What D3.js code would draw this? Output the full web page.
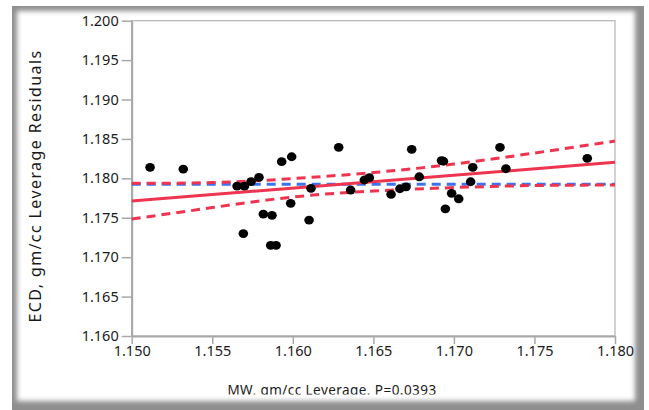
<!DOCTYPE html>
<html>
<head>
<meta charset="utf-8">
<script src="https://cdn.jsdelivr.net/npm/d3@7"></script>
<style>
  body { margin: 0; background: #fff; }
  svg { display: block; font-family: "Noto Sans", "Open Sans", sans-serif; }
</style>
</head>
<body>
<div id="chart"></div>
<script>
// leverage plot data
const xTicks = [1.150, 1.155, 1.160, 1.165, 1.170, 1.175, 1.180];
const yTicks = [1.160, 1.165, 1.170, 1.175, 1.180, 1.185, 1.190, 1.195, 1.200];

const mwLeverage = [1.15114, 1.15320, 1.15654, 1.15700, 1.15741, 1.15790, 1.15931, 1.15993,
  1.16113, 1.15987, 1.15817, 1.15871, 1.16101, 1.15693, 1.15863, 1.15896, 1.16285, 1.16738,
  1.16359, 1.16444, 1.16475, 1.16785, 1.16610, 1.16665, 1.16703, 1.16923, 1.16935, 1.17117,
  1.17286, 1.17323, 1.17104, 1.16986, 1.17030, 1.16947, 1.17828];
const ecdResiduals = [1.18140, 1.18118, 1.17902, 1.17902, 1.17959, 1.18013, 1.18211, 1.18274,
  1.17873, 1.17683, 1.17547, 1.17531, 1.17471, 1.17300, 1.17150, 1.17150, 1.18393, 1.18368,
  1.17852, 1.17979, 1.18008, 1.18020, 1.17797, 1.17868, 1.17893, 1.18226, 1.18217, 1.18140,
  1.18393, 1.18122, 1.17957, 1.17810, 1.17741, 1.17614, 1.18254];

const fitX = [1.150, 1.180];
const fitY = [1.17712, 1.18203];
const ciX = [1.150, 1.155, 1.160, 1.165, 1.170, 1.175, 1.180];
const ciUpper = [1.17937, 1.17947, 1.17997, 1.18074, 1.18181, 1.18321, 1.18473];
const ciLower = [1.17484, 1.17629, 1.17763, 1.17839, 1.17883, 1.17909, 1.17915];
const meanY = 1.17925;

const W = 649, H = 410;
const red = "#ef3450", blue = "#3d72ee";

const svg = d3.select("#chart").append("svg")
  .attr("width", W).attr("height", H);

const defs = svg.append("defs");
defs.append("filter").attr("id", "soft")
  .attr("x", "-5%").attr("y", "-5%").attr("width", "110%").attr("height", "110%")
  .append("feGaussianBlur").attr("stdDeviation", 2.5);
defs.append("clipPath").attr("id", "labclip")
  .append("rect").attr("x", 0).attr("y", 0).attr("width", W).attr("height", 394.5);

// frame with inner shadow
svg.append("rect").attr("x", 12).attr("y", 6).attr("width", 632).attr("height", 406)
  .attr("fill", "#8e8e8e");
svg.append("rect").attr("x", 17).attr("y", 11).attr("width", 618).attr("height", 390)
  .attr("fill", "#fff").attr("filter", "url(#soft)");

const x = d3.scaleLinear().domain([1.150, 1.180]).range([131.7, 615]);
const y = d3.scaleLinear().domain([1.160, 1.200]).range([336, 20.7]);

// plot box
svg.append("rect")
  .attr("x", x(1.150)).attr("y", y(1.200))
  .attr("width", x(1.180) - x(1.150)).attr("height", y(1.160) - y(1.200))
  .attr("fill", "#fff").attr("stroke", "#b4b4b4").attr("stroke-width", 1.2);

const gx = svg.append("g")
  .attr("transform", `translate(0,${y(1.160)})`)
  .call(d3.axisBottom(x).tickValues(xTicks).tickFormat(d3.format(".3f"))
    .tickSize(8).tickPadding(2).tickSizeOuter(0));
const gy = svg.append("g")
  .attr("transform", `translate(${x(1.150)},0)`)
  .call(d3.axisLeft(y).tickValues(yTicks).tickFormat(d3.format(".3f"))
    .tickSize(10).tickPadding(3).tickSizeOuter(0));

[gx, gy].forEach(g => {
  g.select(".domain").attr("stroke", "#a8a8a8").attr("stroke-width", 2);
  g.selectAll(".tick line").attr("stroke", "#a8a8a8").attr("stroke-width", 1.5);
  g.selectAll(".tick text").attr("fill", "#1a1a1a").style("font-size", "14.5px")
    .style("font-family", '"Noto Sans", sans-serif');
});

// mean line
svg.append("line")
  .attr("x1", x(1.150)).attr("x2", x(1.180))
  .attr("y1", y(meanY)).attr("y2", y(meanY))
  .attr("stroke", blue).attr("stroke-width", 3).attr("stroke-dasharray", "9,6");

const ciLine = d3.line().curve(d3.curveNatural)
  .x(d => x(d[0])).y(d => y(d[1]));

[ciUpper, ciLower].forEach(band => {
  svg.append("path")
    .datum(ciX.map((v, i) => [v, band[i]]))
    .attr("d", ciLine)
    .attr("fill", "none").attr("stroke", red)
    .attr("stroke-width", 3).attr("stroke-dasharray", "9,6");
});

svg.append("path")
  .datum(fitX.map((v, i) => [v, fitY[i]]))
  .attr("d", d3.line().x(d => x(d[0])).y(d => y(d[1])))
  .attr("fill", "none").attr("stroke", red).attr("stroke-width", 3);

// points
svg.append("g").selectAll("ellipse")
  .data(mwLeverage.map((v, i) => [v, ecdResiduals[i]]))
  .join("ellipse")
  .attr("cx", d => x(d[0])).attr("cy", d => y(d[1]))
  .attr("rx", 4.8).attr("ry", 4.4).attr("fill", "#000");

// axis titles
svg.append("text")
  .attr("clip-path", "url(#labclip)")
  .attr("x", 332).attr("y", 394.5)
  .attr("text-anchor", "middle")
  .style("font-size", "13.5px").style("letter-spacing", "0.45px").attr("fill", "#1a1a1a")
  .text("MW, gm/cc Leverage, P=0.0393");

svg.append("text")
  .attr("transform", "translate(41,186) rotate(-90)")
  .attr("text-anchor", "middle")
  .style("font-size", "16px").style("letter-spacing", "1.4px").attr("fill", "#1a1a1a")
  .text("ECD, gm/cc Leverage Residuals");
</script>
</body>
</html>
